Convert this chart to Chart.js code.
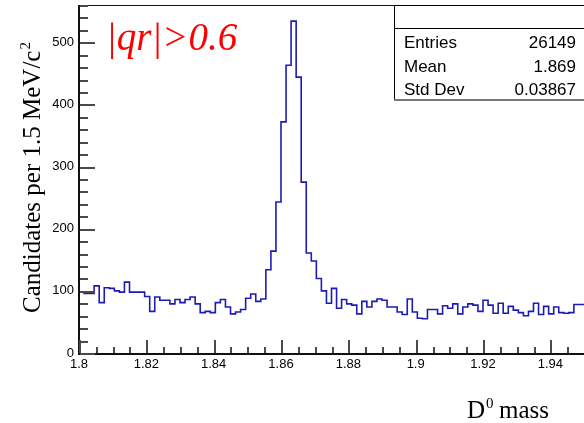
<!DOCTYPE html>
<html>
<head>
<meta charset="utf-8">
<script src="https://cdn.jsdelivr.net/npm/chart.js@4/dist/chart.umd.min.js"></script>
<style>
  html, body { margin: 0; padding: 0; background: #fff; }
  #plot { display: block; }
</style>
</head>
<body>
<canvas id="plot" width="584" height="423"></canvas>
<script>
// D0 candidate mass histogram, 1.5 MeV bins from 1.8 to 1.95
const binLow = 1.8;
const binWidth = 0.0015;
const counts = [
  101, 98, 96, 96, 108, 81, 105, 104, 100, 98,
  114, 98, 98, 98, 91, 67, 90, 85, 85, 79,
  86, 81, 86, 90, 79, 65, 67, 65, 81, 86,
  74, 63, 66, 70, 88, 95, 83, 87, 134, 164,
  243, 372, 463, 534, 444, 275, 161, 148, 120, 100,
  80, 104, 72, 86, 79, 77, 63, 83, 74, 83,
  87, 85, 74, 74, 66, 62, 87, 66, 56, 55,
  70, 70, 63, 76, 72, 79, 63, 74, 79, 77,
  67, 85, 77, 64, 80, 64, 75, 69, 65, 60,
  67, 80, 62, 75, 63, 74, 65, 64, 65, 78
];
const xTicks = [1.8, 1.82, 1.84, 1.86, 1.88, 1.9, 1.92, 1.94];
const yTicks = [0, 100, 200, 300, 400, 500];
const statLabels = ["Entries", "Mean", "Std Dev"];
const statValues = ["26149", "1.869", "0.03867"];
const cutLabel = "|qr|>0.6";

var canvas, ctx, chart;

function histPoints() {
  let pts = [];
  for (let i=0; i<counts.length; i++) {
    pts.push({x: +(binLow + i*binWidth).toFixed(4), y: counts[i]});
  }
  // closing edge so the last bin gets its full width
  pts.push({x: +(binLow + counts.length*binWidth).toFixed(4), y: counts[counts.length-1]});
  return pts;
}

// ROOT-style frame: ticks pointing into the pad, stat box, titles
const rootDecor = {
  id: "rootDecor",
  beforeDraw(c) {
    c.ctx.save();
    c.ctx.fillStyle = "#fff";
    c.ctx.fillRect(0, 0, c.width, c.height);
    c.ctx.restore();
  },
  afterDraw(c) {
    let g = c.ctx;
    let a = c.chartArea;
    let xs = c.scales.x, ys = c.scales.y;
    let left = Math.round(a.left), bottom = Math.round(a.bottom), top = Math.round(a.top);
    g.save();

    // frame
    g.fillStyle = "#111";
    g.fillRect(left, top, c.width-left, 1);
    g.fillRect(left-1, top, 2, bottom-top+1);
    g.fillRect(left-1, bottom, c.width-left+1, 2);

    // y ticks: major every 100, minor every 20
    g.fillStyle = "#4a4a4a";
    for (let v=0; v<=ys.max; v+=20) {
      let py = Math.round(ys.getPixelForValue(v));
      let len = v % 100 == 0 ? 15 : 8;
      g.fillRect(left+1, py, len, 2);
    }
    // x ticks: major every 0.02, minor every 0.005
    for (let k=0; k<=30; k++) {
      let px = Math.round(xs.getPixelForValue(xs.min + k*0.005));
      let len = k % 4 == 0 ? 13 : 6;
      g.fillRect(px, bottom-len, 2, len);
    }

    // cut label
    g.fillStyle = "#f00";
    g.font = 'italic 39px "Liberation Serif"';
    g.textBaseline = "alphabetic";
    g.textAlign = "left";
    g.fillText(cutLabel, 106, 50);

    // statistics box
    let bx = 394, by = 5, bh = 94;
    g.fillStyle = "#fff";
    g.fillRect(bx, by, c.width-bx, bh);
    g.fillStyle = "#000";
    g.fillRect(bx, by, c.width-bx, 1);
    g.fillRect(bx, by, 1, bh+1);
    g.fillRect(bx, by+23, c.width-bx, 1);
    g.fillStyle = "#777";
    g.fillRect(bx, by+bh, c.width-bx, 2);

    g.fillStyle = "#000";
    g.font = '17px "Liberation Sans"';
    for (let i=0; i<statLabels.length; i++) {
      let base = 48 + i*23.5;
      g.textAlign = "left";
      g.fillText(statLabels[i], 404, base);
      g.textAlign = "right";
      g.fillText(statValues[i], 576, base);
    }

    // y title, rotated, with superscript
    g.save();
    g.translate(40, 313);
    g.rotate(-Math.PI/2);
    g.textAlign = "left";
    g.font = '25px "Liberation Serif"';
    let ytitle = "Candidates per 1.5 MeV/c";
    g.fillText(ytitle, 0, 0);
    let w = g.measureText(ytitle).width;
    g.font = '15px "Liberation Serif"';
    g.fillText("2", w+1, -10);
    g.restore();

    // x title
    g.textAlign = "left";
    g.font = '25px "Liberation Serif"';
    g.fillText("D", 467, 418);
    let wd = g.measureText("D").width;
    g.font = '15px "Liberation Serif"';
    g.fillText("0", 467+wd+1, 408);
    g.font = '25px "Liberation Serif"';
    g.fillText("mass", 499, 418);

    g.restore();
  }
};

function init() {
  canvas = document.getElementById("plot");
  ctx = canvas.getContext("2d");

  chart = new Chart(ctx, {
    type: "line",
    data: {
      datasets: [{
        data: histPoints(),
        stepped: "after",
        borderColor: "#1c1cb4",
        borderWidth: 1.6,
        pointRadius: 0,
        fill: false,
      }]
    },
    options: {
      responsive: false,
      animation: false,
      devicePixelRatio: 1,
      layout: { padding: { top: 5, right: 0, left: 0, bottom: 0 } },
      scales: {
        x: {
          type: "linear",
          min: 1.8,
          max: 1.95,
          grid: { display: false, drawTicks: false },
          border: { display: false },
          afterBuildTicks: s => { s.ticks = xTicks.map(v => ({value: v})); },
          afterFit: s => {
            s.height = 70;
            s.paddingLeft = 0;
            s.paddingRight = 0;
          },
          ticks: {
            color: "#000",
            padding: 4,
            maxRotation: 0,
            autoSkip: false,
            font: { family: "Liberation Sans", size: 13 },
            callback: v => String(v),
          }
        },
        y: {
          min: 0,
          max: 560,
          grid: { display: false, drawTicks: false },
          border: { display: false },
          afterBuildTicks: s => { s.ticks = yTicks.map(v => ({value: v})); },
          afterFit: s => {
            s.width = 79;
            s.paddingTop = 0;
            s.paddingBottom = 0;
          },
          ticks: {
            color: "#000",
            padding: 5,
            autoSkip: false,
            font: { family: "Liberation Sans", size: 13 },
            callback: v => String(v),
          }
        }
      },
      plugins: {
        legend: { display: false },
        tooltip: { enabled: false },
      }
    },
    plugins: [rootDecor]
  });
}

window.onload = init;
</script>
</body>
</html>
